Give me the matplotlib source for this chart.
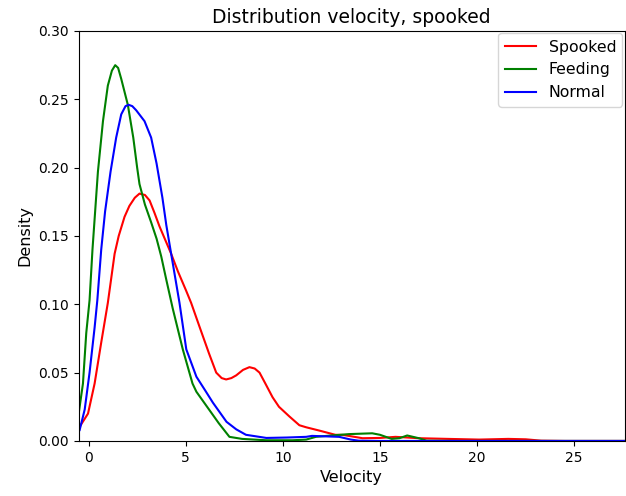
import matplotlib
matplotlib.use('Agg')
import matplotlib.pyplot as plt

# values (velocity, density)
spooked_x = [-0.5, -0.03, 0.31, 0.65, 0.99, 1.34, 1.55, 1.85, 2.1, 2.38, 2.62, 2.9, 3.14, 3.39,
             3.65, 3.95, 4.25, 4.6, 5.02, 5.28, 5.7, 6.2, 6.57, 6.85, 7.08, 7.35, 7.6, 7.95,
             8.28, 8.55, 8.8, 9.1, 9.47, 9.8, 10.33, 10.85, 11.2, 11.9, 12.7, 13.1, 14.1, 15.0,
             15.8, 17.0, 18.5, 20.1, 21.0, 21.6, 22.5, 23.3, 24.5, 27.6]
spooked_y = [0.0095, 0.02, 0.042, 0.072, 0.101, 0.137, 0.150, 0.164, 0.172, 0.178, 0.181, 0.180,
             0.176, 0.167, 0.157, 0.147, 0.137, 0.124, 0.11, 0.101, 0.084, 0.064, 0.050, 0.046,
             0.045, 0.046, 0.048, 0.052, 0.054, 0.053, 0.050, 0.042, 0.032, 0.025, 0.018, 0.0115,
             0.0100, 0.0075, 0.0045, 0.0044, 0.002, 0.0022, 0.003, 0.002, 0.0015, 0.001, 0.0013,
             0.0015, 0.0012, 0.0002, 0.0, 0.0]

feeding_x = [-0.51, -0.29, -0.12, 0.05, 0.2, 0.48, 0.74, 0.99, 1.2, 1.37, 1.52, 1.68, 2.02,
             2.3, 2.5, 2.62, 2.9, 3.22, 3.5, 3.74, 4.0, 4.33, 4.85, 5.35, 5.55, 6.2, 6.7, 7.25,
             7.9, 9.15, 10.5, 11.2, 11.7, 12.5, 13.4, 14.6, 15.0, 15.6, 16.0, 16.4, 17.0, 17.4,
             19.0, 27.6]
feeding_y = [0.020, 0.042, 0.079, 0.103, 0.14, 0.197, 0.234, 0.260, 0.271, 0.275, 0.273, 0.265,
             0.246, 0.222, 0.200, 0.188, 0.173, 0.160, 0.148, 0.135, 0.118, 0.097, 0.067, 0.042,
             0.036, 0.023, 0.013, 0.003, 0.0015, 0.0005, 0.0005, 0.001, 0.003, 0.004, 0.005,
             0.0056, 0.0045, 0.0015, 0.002, 0.004, 0.002, 0.0002, 0.0, 0.0]

normal_x = [-0.46, -0.2, 0.05, 0.31, 0.45, 0.65, 0.85, 1.13, 1.42, 1.68, 1.9, 2.06, 2.25, 2.45,
            2.88, 3.22, 3.5, 3.8, 4.0, 4.25, 4.68, 5.03, 5.55, 6.0, 6.4, 7.1, 7.6, 8.1, 9.15,
            10.2, 11.2, 11.5, 12.9, 13.5, 13.9, 15.0, 27.6]
normal_y = [0.008, 0.023, 0.05, 0.083, 0.103, 0.14, 0.168, 0.197, 0.222, 0.239, 0.245, 0.246,
            0.245, 0.242, 0.234, 0.222, 0.203, 0.178, 0.158, 0.137, 0.101, 0.067, 0.047, 0.037,
            0.028, 0.014, 0.0085, 0.0045, 0.0022, 0.0025, 0.003, 0.0037, 0.003, 0.001, 0.0002,
            0.0, 0.0]

fig, ax = plt.subplots(figsize=(6.26, 4.96), dpi=100)
fig.subplots_adjust(left=0.126, right=0.998, bottom=0.111, top=0.9375)

ax.plot(spooked_x, spooked_y, color='red', label='Spooked')
ax.plot(feeding_x, feeding_y, color='green', label='Feeding')
ax.plot(normal_x, normal_y, color='blue', label='Normal')

ax.set_xlim(-0.5, 27.6)
ax.set_ylim(0, 0.30)
ax.set_title('Distribution velocity, spooked', fontsize=13.5)
ax.set_xlabel('Velocity', fontsize=11.5)
ax.set_ylabel('Density', fontsize=11.5)
ax.legend(loc='upper right', fontsize=11.3, borderaxespad=0.15)

fig.savefig('out.png', dpi=100)
